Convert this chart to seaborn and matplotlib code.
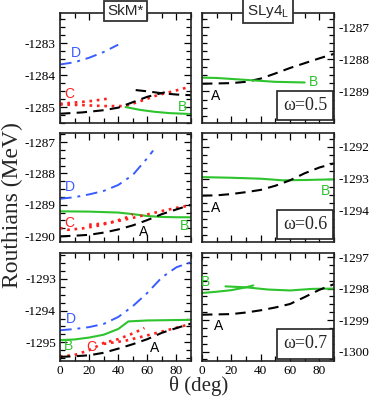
import matplotlib
matplotlib.use("Agg")
import matplotlib.pyplot as plt
import seaborn as sns
import numpy as np
import pandas as pd
from matplotlib.ticker import MultipleLocator, AutoMinorLocator

# ---------------- data ----------------
# Top-left: SkM*, omega = 0.5
tl_D_x = [0, 10, 20, 30, 40]
tl_D_y = [-1283.67, -1283.60, -1283.46, -1283.28, -1283.05]
tl_C1_x = [0, 10, 20, 30, 35]
tl_C1_y = [-1284.90, -1284.86, -1284.82, -1284.76, -1284.72]
tl_C2_x = [0, 15, 30, 45, 55, 67, 80, 90]
tl_C2_y = [-1284.92, -1284.94, -1284.97, -1284.97, -1284.82, -1284.63, -1284.48, -1284.36]
tl_A1_x = [0, 15, 30, 40, 50, 60, 72]
tl_A1_y = [-1285.21, -1285.17, -1285.10, -1285.02, -1284.85, -1284.68, -1284.54]
tl_A2_x = [52, 60, 70, 80, 90]
tl_A2_y = [-1284.47, -1284.51, -1284.57, -1284.61, -1284.63]
tl_B_x = [45, 55, 65, 75, 90]
tl_B_y = [-1285.00, -1285.09, -1285.15, -1285.19, -1285.22]

# Top-right: SLy4_L, omega = 0.5
tr_A_x = [0, 10, 20, 30, 40, 50, 60, 70, 80, 90]
tr_A_y = [-1288.76, -1288.75, -1288.74, -1288.70, -1288.60, -1288.44, -1288.27, -1288.12, -1287.97, -1287.83]
tr_B_x = [0, 10, 20, 30, 40, 50, 60, 70]
tr_B_y = [-1288.57, -1288.58, -1288.61, -1288.64, -1288.67, -1288.70, -1288.71, -1288.72]

# Middle-left: SkM*, omega = 0.6
ml_D_x = [0, 10, 20, 30, 40, 50, 60, 64]
ml_D_y = [-1288.81, -1288.76, -1288.67, -1288.56, -1288.37, -1288.05, -1287.51, -1287.27]
ml_B_x = [0, 20, 40, 50, 60, 70, 80, 90]
ml_B_y = [-1289.21, -1289.22, -1289.25, -1289.30, -1289.36, -1289.39, -1289.40, -1289.40]
ml_A_x = [0, 10, 20, 30, 40, 50, 60, 70, 80, 90]
ml_A_y = [-1290.01, -1289.99, -1289.96, -1289.89, -1289.79, -1289.66, -1289.49, -1289.30, -1289.15, -1289.00]
ml_C1_x = [0, 5, 15, 25, 35, 45, 50]
ml_C1_y = [-1289.74, -1289.80, -1289.76, -1289.68, -1289.57, -1289.42, -1289.30]
ml_C2_x = [20, 30, 40, 50, 60, 70, 80, 90]
ml_C2_y = [-1289.64, -1289.60, -1289.52, -1289.42, -1289.31, -1289.20, -1289.10, -1289.02]

# Middle-right: SLy4_L, omega = 0.6
mr_B_x = [0, 20, 40, 55, 70, 90]
mr_B_y = [-1292.95, -1292.97, -1293.00, -1293.05, -1293.04, -1293.02]
mr_A_x = [0, 10, 20, 30, 40, 50, 60, 70, 80, 90]
mr_A_y = [-1293.53, -1293.52, -1293.48, -1293.42, -1293.35, -1293.22, -1293.05, -1292.83, -1292.65, -1292.52]

# Bottom-left: SkM*, omega = 0.7
bl_D_x = [0, 10, 20, 30, 40, 50, 60, 70, 80, 90]
bl_D_y = [-1294.62, -1294.58, -1294.52, -1294.42, -1294.20, -1293.86, -1293.44, -1292.95, -1292.63, -1292.47]
bl_B_x = [0, 10, 20, 30, 40, 47, 60, 75, 90]
bl_B_y = [-1294.93, -1294.91, -1294.85, -1294.76, -1294.58, -1294.34, -1294.31, -1294.30, -1294.29]
bl_C1_x = [0, 10, 20, 30, 40, 50, 58]
bl_C1_y = [-1295.45, -1295.40, -1295.25, -1295.02, -1294.90, -1294.72, -1294.55]
bl_C2_x = [30, 45, 60, 75, 90]
bl_C2_y = [-1295.05, -1294.95, -1294.78, -1294.60, -1294.42]
bl_A_x = [0, 10, 20, 30, 40, 50, 60, 70, 80, 90]
bl_A_y = [-1295.46, -1295.44, -1295.41, -1295.33, -1295.20, -1295.06, -1294.90, -1294.70, -1294.55, -1294.41]

# Bottom-right: SLy4_L, omega = 0.7
br_B1_x = [0, 10, 20, 30, 35]
br_B1_y = [-1298.14, -1298.10, -1298.05, -1297.96, -1297.90]
br_B2_x = [16, 30, 45, 60, 75, 90]
br_B2_y = [-1297.93, -1297.96, -1298.03, -1298.06, -1298.01, -1298.00]
br_A_x = [0, 10, 20, 30, 40, 50, 60, 70, 80, 90]
br_A_y = [-1298.83, -1298.82, -1298.81, -1298.76, -1298.69, -1298.60, -1298.49, -1298.27, -1298.04, -1297.86]

col_titles = ["SkM*", r"SLy4$_\mathregular{L}$"]
omega_labels = ["\u03c9=0.5", "\u03c9=0.6", "\u03c9=0.7"]
x_ticks = [0, 20, 40, 60, 80]

# ---------------- style ----------------
sns.set_style("white")
plt.rcParams["font.family"] = ["Liberation Serif", "DejaVu Serif"]
plt.rcParams["axes.unicode_minus"] = False
plt.rcParams["mathtext.fontset"] = "custom"
plt.rcParams["mathtext.rm"] = "Liberation Sans"

BLACK = "black"
GREEN = "#2ec42e"
RED = "#ff2020"
BLUE = "#3a5cff"

styles = {
    "A": dict(color=BLACK, linestyle=(0, (5, 3)), linewidth=1.5),
    "B": dict(color=GREEN, linestyle="-", linewidth=1.5),
    "C": dict(color=RED, linestyle=(0, (1, 1.8)), linewidth=1.9),
    "D": dict(color=BLUE, linestyle=(0, (6, 3, 1.5, 3)), linewidth=1.4),
}

fig = plt.figure(figsize=(3.74, 4.0), dpi=100)

W, H = 374.0, 400.0
cols = [(60, 191), (202, 334)]
rows = [(13, 123), (133, 242), (253, 361)]
ylims = [
    [(-1285.5, -1282.06), (-1289.98, -1286.56)],
    [(-1290.19, -1286.71), (-1294.98, -1291.57)],
    [(-1295.59, -1292.18), (-1300.30, -1296.87)],
]

panels = [
    [
        [("D", tl_D_x, tl_D_y), ("C", tl_C1_x, tl_C1_y), ("C", tl_C2_x, tl_C2_y),
         ("A", tl_A1_x, tl_A1_y), ("A", tl_A2_x, tl_A2_y), ("B", tl_B_x, tl_B_y)],
        [("A", tr_A_x, tr_A_y), ("B", tr_B_x, tr_B_y)],
    ],
    [
        [("D", ml_D_x, ml_D_y), ("B", ml_B_x, ml_B_y), ("C", ml_C1_x, ml_C1_y),
         ("C", ml_C2_x, ml_C2_y), ("A", ml_A_x, ml_A_y)],
        [("B", mr_B_x, mr_B_y), ("A", mr_A_x, mr_A_y)],
    ],
    [
        [("D", bl_D_x, bl_D_y), ("B", bl_B_x, bl_B_y), ("C", bl_C1_x, bl_C1_y),
         ("C", bl_C2_x, bl_C2_y), ("A", bl_A_x, bl_A_y)],
        [("B", br_B1_x, br_B1_y), ("B", br_B2_x, br_B2_y), ("A", br_A_x, br_A_y)],
    ],
]

# label positions (data coords)
labels = [
    [[("D", 11, -1283.3), ("C", 6.5, -1284.6), ("B", 84, -1285.0)],
     [("A", 9, -1289.15), ("B", 76, -1288.71)]],
    [[("D", 6.5, -1288.44), ("C", 6.5, -1289.58), ("A", 57.5, -1289.87), ("B", 85.5, -1289.69)],
     [("A", 9, -1293.93), ("B", 84.5, -1293.37)]],
    [[("D", 7.5, -1294.25), ("B", 5.5, -1295.12), ("C", 21.5, -1295.14), ("A", 65, -1295.17)],
     [("B", 2.5, -1297.8), ("A", 11, -1299.2)]],
]

label_colors = {"A": BLACK, "B": GREEN, "C": RED, "D": BLUE}

for r, (y0, y1) in enumerate(rows):
    for c, (x0, x1) in enumerate(cols):
        ax = fig.add_axes([x0 / W, 1 - y1 / H, (x1 - x0) / W, (y1 - y0) / H])
        for key, xs, ys in panels[r][c]:
            df = pd.DataFrame({"theta": xs, "E": ys})
            sns.lineplot(data=df, x="theta", y="E", ax=ax, sort=False,
                         estimator=None, legend=False, **styles[key])
        ax.set_xlim(0, 90)
        ax.set_ylim(*ylims[r][c])
        ax.set_xlabel("")
        ax.set_ylabel("")
        ax.xaxis.set_major_locator(MultipleLocator(20))
        ax.xaxis.set_minor_locator(MultipleLocator(10))
        ax.yaxis.set_major_locator(MultipleLocator(1))
        ax.yaxis.set_minor_locator(AutoMinorLocator(4))
        ax.tick_params(which="both", direction="in", top=True, bottom=True,
                       left=True, right=True, colors="black", width=0.9)
        ax.tick_params(which="major", length=5, labelsize=9.5, pad=3)
        ax.tick_params(which="minor", length=3.5)
        ax.yaxis.set_major_formatter(matplotlib.ticker.FuncFormatter(lambda v, p: "%d" % round(v)))
        if c == 1:
            ax.yaxis.tick_right()
            ax.tick_params(which="both", left=True, right=True)
        if r < 2:
            ax.set_xticklabels([])
        else:
            ax.set_xticks(x_ticks)
        for sp in ax.spines.values():
            sp.set_color("#222222")
            sp.set_linewidth(1.2)
        for name, lx, ly in labels[r][c]:
            ax.text(lx, ly, name, color=label_colors[name], fontsize=10,
                    family=["Liberation Sans", "DejaVu Sans"], ha="center", va="center")
        if c == 1:
            ax.text(0.78, 0.16, omega_labels[r], transform=ax.transAxes,
                    fontsize=13, ha="center", va="center",
                    bbox=dict(boxstyle="square,pad=0.35", fc="white", ec="#222222", lw=1.2))

# column titles
for c, (x0, x1) in enumerate(cols):
    fig.text((x0 + x1) / 2 / W, 1 - 11 / H, col_titles[c], fontsize=11,
             family=["Liberation Sans", "DejaVu Sans"], ha="center", va="center",
             bbox=dict(boxstyle="square,pad=0.22", fc="white", ec="#333333", lw=1.3),
             zorder=10)

fig.text(12 / W, 1 - 205 / H, "Routhians (MeV)", rotation=90, fontsize=17,
         ha="center", va="center")
fig.text(199 / W, 1 - 386 / H, "\u03b8 (deg)", fontsize=15, ha="center", va="center")

fig.savefig("out.png", dpi=100)
